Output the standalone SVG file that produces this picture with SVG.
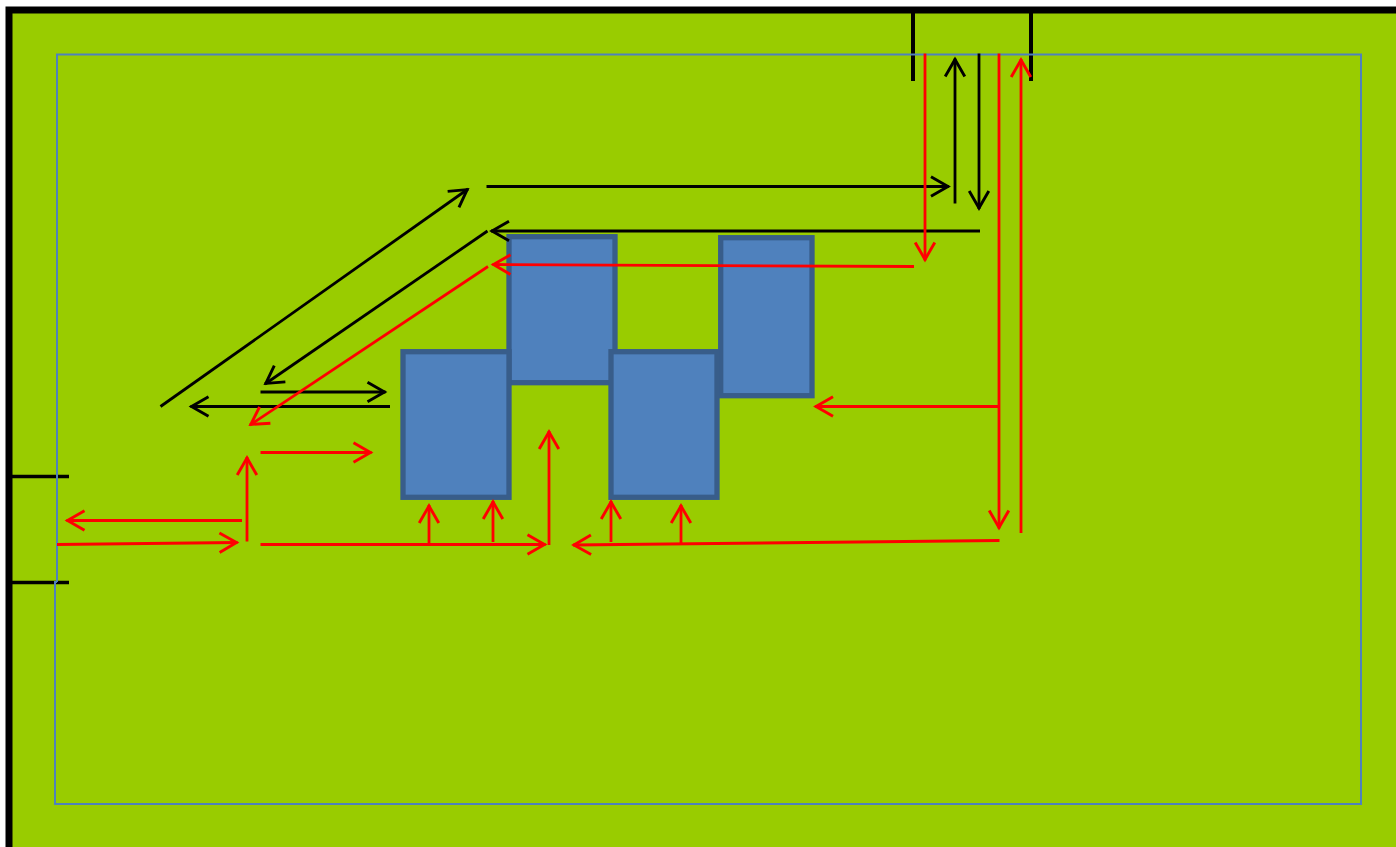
<svg xmlns="http://www.w3.org/2000/svg" width="1396" height="847" viewBox="0 0 1396 847">
<style>
.k{stroke:#000;stroke-width:2.8;fill:none;marker-end:url(#ak)}
.r{stroke:#f00;stroke-width:2.8;fill:none;marker-end:url(#ar)}
.f{stroke:#000;fill:none}
.b{fill:#4f81bd;stroke:#385d8a;stroke-width:5.3}
.g{fill:none;stroke:#4f81bd;stroke-width:2}
</style>
<defs>
<marker id="ak" markerUnits="userSpaceOnUse" markerWidth="28" markerHeight="28" refX="23" refY="14" orient="auto"><path d="M5 4.2L22 14L5 23.8" fill="none" stroke="#000" stroke-width="2.9"/></marker>
<marker id="ar" markerUnits="userSpaceOnUse" markerWidth="28" markerHeight="28" refX="23" refY="14" orient="auto"><path d="M5 4.2L22 14L5 23.8" fill="none" stroke="#f00" stroke-width="2.9"/></marker>
</defs>
<rect width="1396" height="847" fill="#fff"/>
<rect id="background" x="9" y="10" width="1400" height="850" fill="#99cc00" stroke="#000" stroke-width="7"/>
<g id="ports">
<path class="f" stroke-width="4" d="M913 12V81M1031 12V81"/>
<path class="f" stroke-width="3.6" d="M11 476.500H69M11 582.500H69"/>
</g>
<path id="frame" class="g" d="M57 582V54.500H1361V804H55V582H57"/>
<g id="box-b"><rect class="b" x="509" y="236.700" width="106" height="146"/></g>
<g id="box-d"><rect class="b" x="720.700" y="237.700" width="91.300" height="158"/></g>
<g id="box-a"><rect class="b" x="403" y="351.700" width="106" height="145.600"/></g>
<g id="box-c"><rect class="b" x="611" y="351.700" width="106" height="145.600"/></g>
<g id="connectors">
<path class="k" d="M160.500 406.500L468 189"/>
<path class="k" d="M486.500 186.500H949"/>
<path class="k" d="M980 231H491"/>
<path class="k" d="M487.500 231L265 384"/>
<path class="k" d="M260.500 392H385.500"/>
<path class="k" d="M390 406.500H190.500"/>
<path class="k" d="M955 203.500V58.500"/>
<path class="k" d="M979 53.500V209"/>
<path class="r" d="M925 53.500V260.500"/>
<path class="r" d="M914 266.500L492.500 264.500"/>
<path class="r" d="M488 266.500L250 425"/>
<path class="r" d="M999 53.500V528.500"/>
<path class="r" d="M1021 533V59"/>
<path class="r" d="M999 406.500H815"/>
<path class="r" d="M999.500 540.500L573 545"/>
<path class="r" d="M260.500 544.500H545.500"/>
<path class="r" d="M549 545V431"/>
<path class="r" d="M429 545V505"/>
<path class="r" d="M493 542V501"/>
<path class="r" d="M611 542V501"/>
<path class="r" d="M681 545V505"/>
<path class="r" d="M260.500 452.500H371.500"/>
<path class="r" d="M247 541.500V457"/>
<path class="r" d="M242 520.500H66.500"/>
<path class="r" d="M57 544.500L237.500 542.500"/>
</g>
</svg>
